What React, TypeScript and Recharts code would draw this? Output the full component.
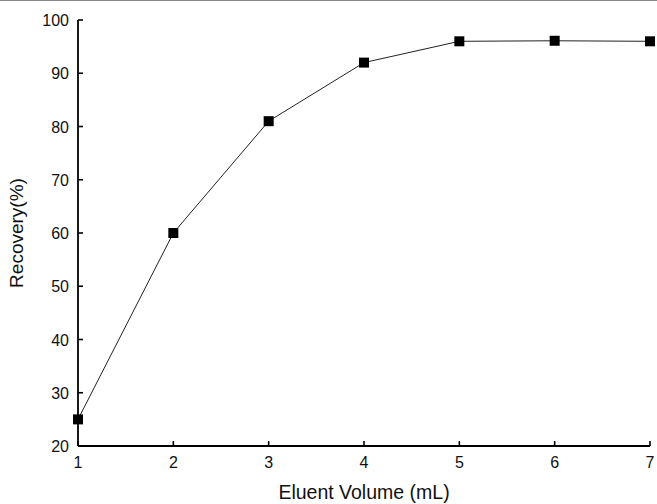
import { LineChart, Line, XAxis, YAxis, Label } from "recharts"

// Eluent volume (mL) vs recovery (%)
const volumes = [1, 2, 3, 4, 5, 6, 7]
const recovery = [25, 60, 81, 92, 96, 96.1, 96]
const xTicks = [1, 2, 3, 4, 5, 6, 7]
const yTicks = [20, 30, 40, 50, 60, 70, 80, 90, 100]

const chartData = volumes.map((v, i) => ({ volume: v, recovery: recovery[i] }))

const FONT = "'Liberation Sans', Arial, Helvetica, sans-serif"

// ticks point inward, so draw the little line ourselves next to the label
const XTick = ({ x, y, payload }: any) => (
  <g>
    <line x1={x} y1={y} x2={x} y2={y - 5} stroke="#000" strokeWidth={1.6} />
    <text x={x} y={y + 22} textAnchor="middle" fontSize={16} fontFamily={FONT} fill="#111">
      {payload.value}
    </text>
  </g>
)

const YTick = ({ x, y, payload }: any) => (
  <g>
    <line x1={x} y1={y} x2={x + 5} y2={y} stroke="#000" strokeWidth={1.6} />
    <text x={x - 9} y={y + 6} textAnchor="end" fontSize={16} fontFamily={FONT} fill="#111">
      {payload.value}
    </text>
  </g>
)

const SquareDot = ({ cx, cy, index }: any) => (
  <rect key={index} x={cx - 5} y={cy - 5} width={10} height={10} fill="#000" />
)

export default function App() {
  return (
    <div style={{ position: "absolute", left: 0, top: 0, width: 657, height: 504, background: "#fff" }}>
      <div style={{ position: "absolute", left: 0, top: 0, width: 657, height: 1, background: "#888" }} />
      <LineChart
        width={657}
        height={504}
        data={chartData}
        margin={{ top: 20, right: 7, left: 0, bottom: 0 }}
      >
        <XAxis
          dataKey="volume"
          type="number"
          domain={[1, 7]}
          ticks={xTicks}
          height={58}
          stroke="#000"
          strokeWidth={1.8}
          tickLine={false}
          tickSize={0}
          tickMargin={0}
          tick={<XTick />}
          interval={0}
        >
          <Label
            value="Eluent Volume (mL)"
            position="insideBottom"
            offset={5}
            style={{ fontSize: 19.5, fontFamily: FONT, fill: "#111" }}
          />
        </XAxis>
        <YAxis
          type="number"
          domain={[20, 100]}
          ticks={yTicks}
          width={78}
          stroke="#000"
          strokeWidth={1.8}
          tickLine={false}
          tickSize={0}
          tickMargin={0}
          tick={<YTick />}
          interval={0}
        >
          <Label
            content={({ viewBox }: any) => {
              const cy = viewBox.y + viewBox.height / 2
              return (
                <text
                  x={23}
                  y={cy}
                  transform={`rotate(-90, 23, ${cy})`}
                  textAnchor="middle"
                  fontSize={19}
                  fontFamily={FONT}
                  fill="#111"
                >
                  Recovery(%)
                </text>
              )
            }}
          />
        </YAxis>
        <Line
          type="linear"
          dataKey="recovery"
          stroke="#222"
          strokeWidth={1}
          dot={<SquareDot />}
          activeDot={false}
          isAnimationActive={false}
        />
      </LineChart>
    </div>
  )
}
